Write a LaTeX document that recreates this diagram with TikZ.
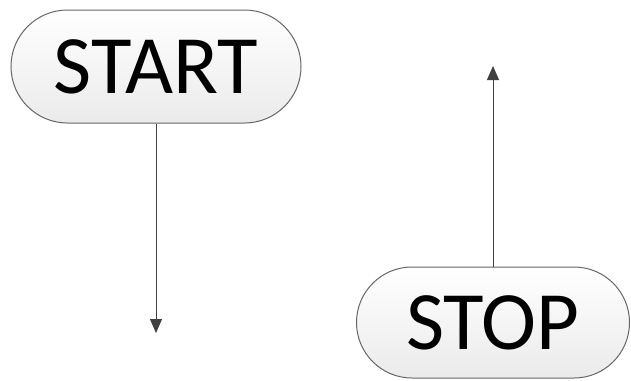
\documentclass[tikz,border=0pt]{standalone}
\usepackage{fontspec}
\setmainfont{Carlito}
\usetikzlibrary{arrows.meta,shapes.misc}
\begin{document}
\begin{tikzpicture}[x=1pt,y=-1pt,
  terminal/.style={rounded rectangle, draw=black!60, line width=1pt, top color=white, bottom color=black!8,
    inner sep=0pt, font=\fontsize{83}{99}\selectfont},
  flow/.style={draw=black!75, line width=1pt, -{Triangle[length=14pt,width=12pt]}}]
  \useasboundingbox (0,0) rectangle (631,380);
  \node[terminal, minimum width=290pt, minimum height=113pt] (start) at (156,66.5) {START};
  \node[terminal, minimum width=273pt, minimum height=111pt] (stop) at (493,322.5) {STOP};
  \coordinate (down) at (156,333);
  \coordinate (up) at (493,66);
  \draw[flow] (start.south) -- (down);
  \draw[flow] (stop.north) -- (up);
\end{tikzpicture}
\end{document}
